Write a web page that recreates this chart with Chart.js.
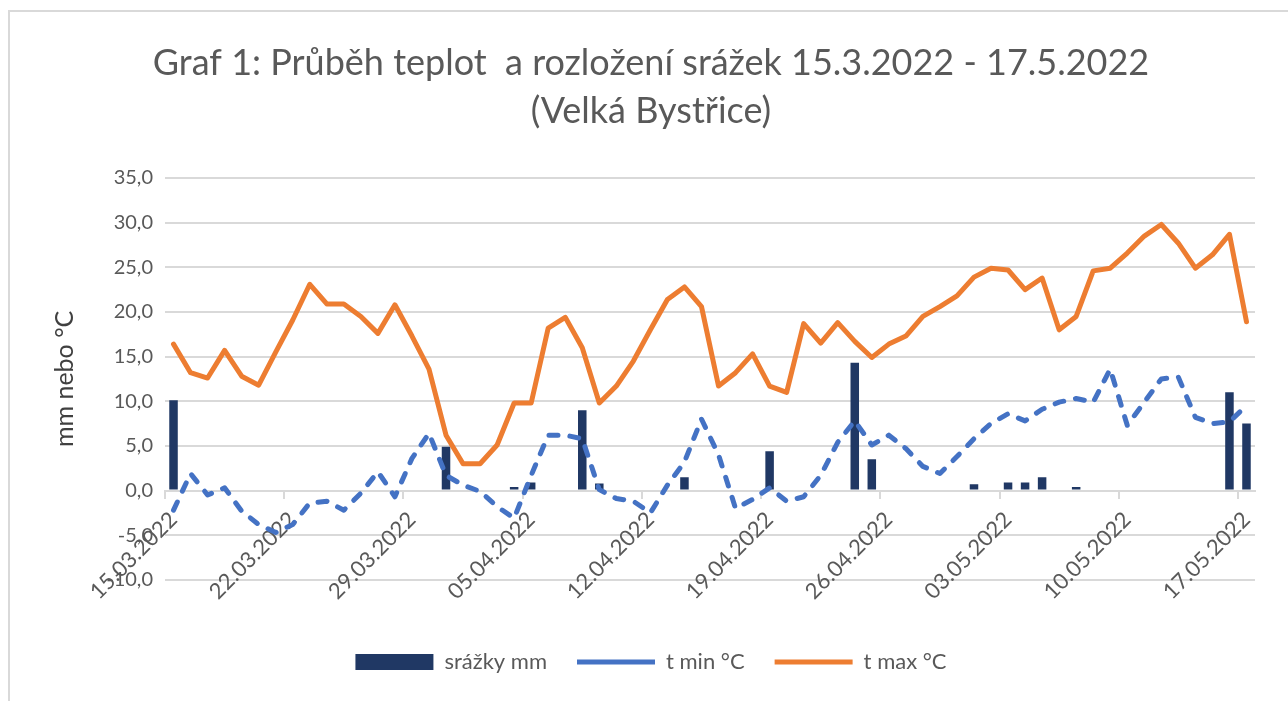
<!DOCTYPE html>
<html lang="cs">
<head>
<meta charset="utf-8">
<title>Graf 1</title>
<script src="https://cdn.jsdelivr.net/npm/chart.js@4.4.1/dist/chart.umd.min.js"></script>
<style>
    html, body { margin: 0; padding: 0; background: #ffffff; overflow: hidden; }
    #ramecek {
        position: absolute; left: 8px; top: 10px; width: 1300px; height: 720px;
        border-left: 2px solid #d9d9d9; border-top: 2px solid #d9d9d9;
    }
    #graf { position: absolute; left: 0; top: 0; }
</style>
</head>
<body>
<div id="ramecek"></div>
<canvas id="graf" width="1288" height="701"></canvas>
<script>
// data (15.3.2022 - 17.5.2022)
var dny = [
    '15.03.2022', '16.03.2022', '17.03.2022', '18.03.2022', '19.03.2022', '20.03.2022', '21.03.2022',
    '22.03.2022', '23.03.2022', '24.03.2022', '25.03.2022', '26.03.2022', '27.03.2022', '28.03.2022',
    '29.03.2022', '30.03.2022', '31.03.2022', '01.04.2022', '02.04.2022', '03.04.2022', '04.04.2022',
    '05.04.2022', '06.04.2022', '07.04.2022', '08.04.2022', '09.04.2022', '10.04.2022', '11.04.2022',
    '12.04.2022', '13.04.2022', '14.04.2022', '15.04.2022', '16.04.2022', '17.04.2022', '18.04.2022',
    '19.04.2022', '20.04.2022', '21.04.2022', '22.04.2022', '23.04.2022', '24.04.2022', '25.04.2022',
    '26.04.2022', '27.04.2022', '28.04.2022', '29.04.2022', '30.04.2022', '01.05.2022', '02.05.2022',
    '03.05.2022', '04.05.2022', '05.05.2022', '06.05.2022', '07.05.2022', '08.05.2022', '09.05.2022',
    '10.05.2022', '11.05.2022', '12.05.2022', '13.05.2022', '14.05.2022', '15.05.2022', '16.05.2022',
    '17.05.2022'
];

var srazky = [
    10.1, 0, 0, 0, 0, 0, 0, 0, 0, 0, 0, 0, 0, 0, 0, 0, 4.9,
    0, 0, 0, 0.4, 0.9, 0, 0, 9.0, 0.8, 0, 0, 0, 0, 1.5, 0, 0, 0, 0, 4.4,
    0, 0, 0, 0, 14.3, 3.5, 0, 0, 0, 0, 0,
    0.7, 0, 0.9, 0.9, 1.5, 0, 0.4, 0, 0, 0, 0, 0, 0, 0, 0, 11.0, 7.5
];

var tMin = [
    -2.2, 1.9, -0.5, 0.3, -2.3, -3.8, -4.7, -3.8, -1.4, -1.2, -2.2, -0.3, 2.1, -0.7, 3.6, 6.4, 1.7,
    0.6, -0.1, -1.8, -3.1, 1.7, 6.2, 6.2, 5.8, 0.1, -0.9, -1.2, -2.5, 0.6, 3.2, 8.0, 4.0, -2.0, -1.0,
    0.3, -1.2, -0.7, 1.7, 5.4, 7.8, 5.1, 6.2, 4.7, 2.7, 1.9, 3.8,
    5.8, 7.5, 8.6, 7.8, 9.1, 9.9, 10.3, 9.9, 13.6, 7.3, 9.9, 12.5, 12.7, 8.2, 7.5, 7.7, 9.5
];

var tMax = [
    16.4, 13.2, 12.6, 15.7, 12.8, 11.8, 15.5, 19.1, 23.1, 20.9, 20.9, 19.5, 17.6, 20.8, 17.3, 13.6, 6.2,
    3.0, 3.0, 5.1, 9.8, 9.8, 18.2, 19.4, 16.0, 9.8, 11.7, 14.5, 18.0, 21.4, 22.8, 20.6, 11.7, 13.2, 15.3,
    11.7, 11.0, 18.7, 16.5, 18.8, 16.7, 14.9, 16.4, 17.3, 19.5, 20.6, 21.8,
    23.9, 24.9, 24.7, 22.5, 23.8, 18.0, 19.5, 24.6, 24.9, 26.6, 28.5, 29.8, 27.7, 24.9, 26.4, 28.7, 18.9
];

var osaY = { min: -10, max: 35, krok: 5 };

document.addEventListener("DOMContentLoaded", function() {
    var pismo = 'Lato, "Open Sans", sans-serif';
    var seda = '#595959';
    var mrizka = '#d9d9d9';

    var ctx = document.getElementById('graf').getContext('2d');
    var graf = new Chart(ctx, {
        data: {
            labels: dny,
            datasets: [
                {
                    type: 'bar',
                    label: 'srážky mm',
                    data: srazky,
                    backgroundColor: '#203864',
                    borderWidth: 0,
                    barPercentage: 0.5,
                    categoryPercentage: 1.0,
                    pointStyle: 'rect',
                    order: 3
                },
                {
                    type: 'line',
                    label: 't min °C',
                    data: tMin,
                    borderColor: '#4472c4',
                    backgroundColor: '#4472c4',
                    borderWidth: 5,
                    borderDash: [9, 12],
                    borderCapStyle: 'round',
                    borderJoinStyle: 'round',
                    tension: 0,
                    pointRadius: 0,
                    pointStyle: 'line',
                    order: 2
                },
                {
                    type: 'line',
                    label: 't max °C',
                    data: tMax,
                    borderColor: '#ed7d31',
                    backgroundColor: '#ed7d31',
                    borderWidth: 5,
                    borderCapStyle: 'round',
                    borderJoinStyle: 'round',
                    tension: 0,
                    pointRadius: 0,
                    pointStyle: 'line',
                    order: 1
                }
            ]
        },
        options: {
            responsive: false,
            animation: false,
            devicePixelRatio: 1,
            layout: {
                padding: { left: 47, right: 33, top: 0, bottom: 18 }
            },
            scales: {
                x: {
                    type: 'category',
                    position: { y: 0 },
                    offset: true,
                    grid: {
                        offset: true,
                        drawOnChartArea: false,
                        drawTicks: true,
                        tickLength: 7,
                        lineWidth: 2,
                        color: function(c) { return c.index % 7 === 0 ? mrizka : 'rgba(0,0,0,0)'; },
                        tickColor: function(c) { return c.index % 7 === 0 ? mrizka : 'rgba(0,0,0,0)'; }
                    },
                    border: { display: true, color: mrizka, width: 2 },
                    ticks: {
                        autoSkip: false,
                        minRotation: 45,
                        maxRotation: 45,
                        padding: 9,
                        color: seda,
                        font: { family: pismo, size: 22 },
                        callback: function(value, index) {
                            return index % 7 === 0 ? dny[index] : '';
                        }
                    }
                },
                y: {
                    min: osaY.min,
                    max: osaY.max,
                    grid: { color: mrizka, lineWidth: 2, drawTicks: false },
                    border: { display: false },
                    ticks: {
                        stepSize: osaY.krok,
                        padding: 12,
                        color: seda,
                        font: { family: pismo, size: 20 },
                        callback: function(value) {
                            return value.toFixed(1).replace('.', ',');
                        }
                    },
                    title: {
                        display: true,
                        text: 'mm nebo °C',
                        color: '#404040',
                        font: { family: pismo, size: 25 },
                        padding: { top: 3, bottom: 0 }
                    },
                    afterFit: function(scale) {
                        scale.width = 118; // levý okraj plochy grafu na 165 px
                    }
                }
            },
            plugins: {
                title: {
                    display: true,
                    text: ['Graf 1: Průběh teplot  a rozložení srážek 15.3.2022 - 17.5.2022', '(Velká Bystřice)'],
                    color: seda,
                    font: { family: pismo, size: 36, weight: 'normal', lineHeight: 1.32 },
                    padding: { top: 40, bottom: 43 }
                },
                legend: {
                    position: 'bottom',
                    title: {
                        display: true,
                        text: ' ',
                        font: { size: 1 },
                        padding: { top: 0, bottom: 40 }
                    },
                    labels: {
                        usePointStyle: true,
                        pointStyleWidth: 78,
                        boxHeight: 16,
                        padding: 30,
                        color: seda,
                        font: { family: pismo, size: 22 },
                        sort: function(a, b) { return a.datasetIndex - b.datasetIndex; }
                    }
                },
                tooltip: { enabled: false }
            }
        }
    });
});
</script>
</body>
</html>
